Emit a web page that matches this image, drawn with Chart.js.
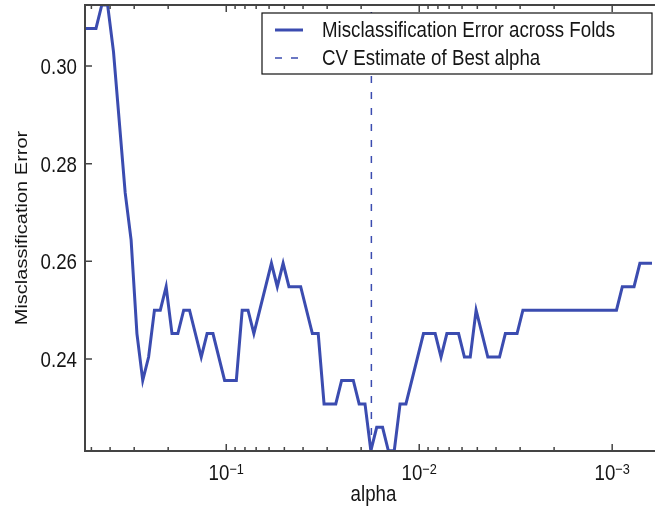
<!DOCTYPE html>
<html>
<head>
<meta charset="utf-8">
<script src="https://cdn.jsdelivr.net/npm/chart.js@4.4.0/dist/chart.umd.min.js"></script>
<style>
  html, body { margin: 0; padding: 0; background: #fff; }
  canvas { display: block; }
</style>
</head>
<body>
<canvas id="cv" width="655" height="512"></canvas>
<script>
// alpha grid points where the curve changes direction (x axis runs from large to small alpha)
const alphas = [0.5396, 0.4733, 0.4416, 0.4119, 0.3840, 0.3340, 0.3113, 0.2904, 0.2709, 0.2526,
  0.2356, 0.2197, 0.2049, 0.1911, 0.1782, 0.1662, 0.1550, 0.1348, 0.1257, 0.1172,
  0.1020, 0.08867, 0.08270, 0.07713, 0.07193, 0.05834, 0.05440, 0.05074, 0.04732, 0.04115,
  0.03579, 0.03338, 0.03113, 0.02707, 0.02525, 0.02196, 0.02048, 0.01910, 0.01781, 0.01661,
  0.01549, 0.01445, 0.01347, 0.01257, 0.01172, 0.009505, 0.008267, 0.007710, 0.007190, 0.006253,
  0.005832, 0.005439, 0.005072, 0.004411, 0.003836, 0.003578, 0.003111, 0.002902, 0.0009502, 0.0008861,
  0.0007706, 0.0007186, 0.000622];
const errors = [0.3077, 0.3077, 0.3125, 0.3125, 0.3029, 0.2740, 0.2644, 0.2452, 0.2356, 0.2404,
  0.2500, 0.2500, 0.2548, 0.2452, 0.2452, 0.2500, 0.2500, 0.2404, 0.2452, 0.2452,
  0.2356, 0.2356, 0.2500, 0.2500, 0.2452, 0.2596, 0.2548, 0.2596, 0.2548, 0.2548,
  0.2452, 0.2452, 0.2308, 0.2308, 0.2356, 0.2356, 0.2308, 0.2308, 0.2212, 0.2260,
  0.2260, 0.2212, 0.2212, 0.2308, 0.2308, 0.2452, 0.2452, 0.2404, 0.2452, 0.2452,
  0.2404, 0.2404, 0.2500, 0.2404, 0.2404, 0.2452, 0.2452, 0.2500, 0.2500, 0.2548,
  0.2548, 0.2596, 0.2596];
const bestAlpha = 0.0177;

const xRange = [0.000622, 0.5396];
const yRange = [0.22115, 0.3125];
const xMajorTicks = [0.1, 0.01, 0.001];
const xTickBase = '10';
const xTickExps = ['−1', '−2', '−3'];
const xMinorSteps = [2, 3, 4, 5, 6, 7, 8, 9];
const yTicks = [0.24, 0.26, 0.28, 0.30];
const xTitle = 'alpha';
const yTitle = 'Misclassification Error';

const FONT = '"Liberation Sans", Arial, sans-serif';
const SX = 0.85; // the source figure is horizontally condensed
const BLUE = '#3b4cb0';
const AXIS = '#444';
const INK = '#151515';

function squashText(ctx, text, x, y, size, align, rot) {
  ctx.save();
  ctx.font = size + 'px ' + FONT;
  ctx.translate(x, y);
  if (rot) {
    ctx.rotate(rot);
    ctx.scale(1, SX); // rotated text: only glyph height is condensed
  } else {
    ctx.scale(SX, 1);
  }
  ctx.textAlign = align;
  ctx.textBaseline = 'alphabetic';
  ctx.fillText(text, 0, 0);
  ctx.restore();
}

// matplotlib style frame: inward ticks, spines, labels, boxed legend
const frame = {
  id: 'frame',
  afterDraw(chart) {
    const { ctx, chartArea: a, scales: { x, y } } = chart;
    ctx.save();
    ctx.strokeStyle = AXIS;
    ctx.lineWidth = 1.5;
    ctx.beginPath();
    x.ticks.forEach(t => {
      const px = x.getPixelForValue(t.value);
      const len = t.major ? 7 : 4;
      ctx.moveTo(px, a.bottom); ctx.lineTo(px, a.bottom - len);
      ctx.moveTo(px, a.top); ctx.lineTo(px, a.top + len);
    });
    y.ticks.forEach(t => {
      const py = y.getPixelForValue(t.value);
      ctx.moveTo(a.left, py); ctx.lineTo(a.left + 7, py);
    });
    ctx.stroke();
    ctx.lineWidth = 2;
    ctx.beginPath();
    ctx.moveTo(a.right + 2, a.top); ctx.lineTo(a.left, a.top);
    ctx.lineTo(a.left, a.bottom); ctx.lineTo(a.right + 2, a.bottom);
    ctx.stroke();

    // tick labels and axis titles
    ctx.fillStyle = INK;
    y.ticks.forEach(t => {
      squashText(ctx, t.value.toFixed(2), a.left - 8, y.getPixelForValue(t.value) + 8, 22, 'right');
    });
    xMajorTicks.forEach((m, i) => {
      const px = x.getPixelForValue(m);
      ctx.font = '22px ' + FONT;
      const wb = ctx.measureText(xTickBase).width * SX;
      ctx.font = '15px ' + FONT;
      const we = ctx.measureText(xTickExps[i]).width * SX;
      const x0 = px - (wb + we) / 2;
      squashText(ctx, xTickBase, x0, 480, 22, 'left');
      squashText(ctx, xTickExps[i], x0 + wb, 473.5, 15, 'left');
    });
    squashText(ctx, xTitle, 373.5, 500.5, 22, 'center');
    squashText(ctx, yTitle, 27, (a.top + a.bottom) / 2, 20, 'center', -Math.PI / 2);

    // legend
    const bx = 262, by = 13, bw = 390, bh = 61;
    ctx.fillStyle = '#fff';
    ctx.fillRect(bx, by, bw, bh);
    ctx.strokeStyle = '#111';
    ctx.lineWidth = 1.2;
    ctx.strokeRect(bx, by, bw, bh);
    chart.data.datasets.forEach((ds, i) => {
      const ry = by + 17 + i * 28;
      ctx.strokeStyle = ds.borderColor;
      ctx.lineWidth = ds.borderWidth;
      ctx.setLineDash(ds.borderDash || []);
      ctx.beginPath();
      ctx.moveTo(bx + 13, ry); ctx.lineTo(bx + 41, ry);
      ctx.stroke();
      ctx.setLineDash([]);
      ctx.fillStyle = INK;
      squashText(ctx, ds.label, bx + 60, by + 23.5 + i * 28, 22, 'left');
    });
    ctx.restore();
  }
};

new Chart(document.getElementById('cv'), {
  type: 'line',
  data: {
    datasets: [
      {
        label: 'Misclassification Error across Folds',
        data: alphas.map((a, i) => ({ x: a, y: errors[i] })),
        borderColor: BLUE, borderWidth: 3, pointRadius: 0, tension: 0
      },
      {
        label: 'CV Estimate of Best alpha',
        data: [{ x: bestAlpha, y: yRange[0] }, { x: bestAlpha, y: yRange[1] }],
        borderColor: BLUE, borderWidth: 1.5, borderDash: [7, 9], pointRadius: 0
      }
    ]
  },
  options: {
    responsive: false,
    animation: false,
    layout: { padding: { top: 5, right: 0, left: 0, bottom: 0 } },
    plugins: { legend: { display: false }, tooltip: { enabled: false } },
    scales: {
      x: {
        type: 'logarithmic', reverse: true, min: xRange[0], max: xRange[1],
        grid: { display: false, drawTicks: false }, border: { display: false },
        afterBuildTicks: s => {
          const t = [];
          xMajorTicks.forEach(m => {
            t.push({ value: m, major: true });
            xMinorSteps.forEach(k => {
              const v = k * m;
              if (v > xRange[0] && v < xRange[1]) t.push({ value: v, major: false });
            });
          });
          s.ticks = t;
        },
        afterFit: s => { s.height = 61; },
        ticks: { display: false }
      },
      y: {
        min: yRange[0], max: yRange[1],
        grid: { display: false, drawTicks: false }, border: { display: false },
        afterBuildTicks: s => { s.ticks = yTicks.map(v => ({ value: v })); },
        afterFit: s => { s.width = 85; },
        ticks: { display: false }
      }
    }
  },
  plugins: [frame]
});
</script>
</body>
</html>
